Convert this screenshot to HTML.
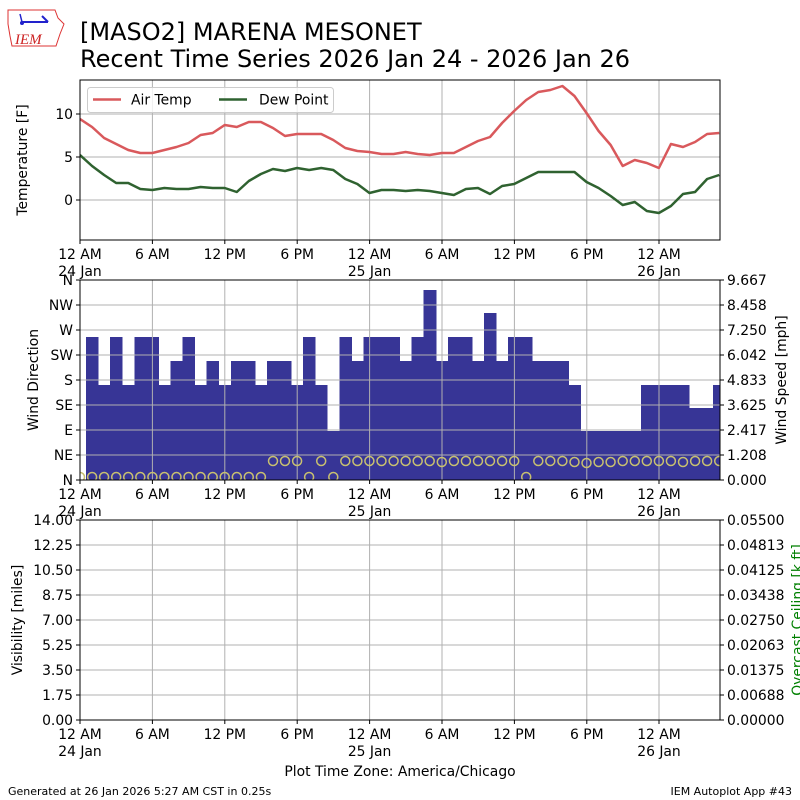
<!DOCTYPE html>
<html><head><meta charset="utf-8"><style>
html,body{margin:0;padding:0;background:#fff}
svg{display:block}
text{font-family:"DejaVu Sans","Liberation Sans",sans-serif;fill:#000}
</style></head><body>
<svg width="800" height="800" viewBox="0 0 800 800" xmlns="http://www.w3.org/2000/svg">
<defs>
<clipPath id="c1"><rect x="80" y="80" width="640" height="160"/></clipPath>
<clipPath id="c2"><rect x="80" y="280" width="640" height="200"/></clipPath>
</defs>
<g>
<path d="M8 10 L55 10 L58 18 L64 24 L60 34 L56 46 L12 46 L10 36 L8 24 Z" fill="#fff" stroke="#d33" stroke-width="1"/>
<text x="15" y="44" font-size="15" font-style="italic" style="font-family:'Liberation Serif',serif;fill:#c22">IEM</text>
<line x1="22" y1="22" x2="48" y2="22" stroke="#22c" stroke-width="2"/>
<line x1="20" y1="14" x2="22" y2="22" stroke="#22c" stroke-width="1.5"/>
<line x1="42" y1="16" x2="48" y2="22" stroke="#22c" stroke-width="2"/>
<circle cx="22" cy="23" r="2" fill="#22c"/>
</g>
<text x="80" y="40" font-size="24">[MASO2] MARENA MESONET</text>
<text x="80" y="67" font-size="24">Recent Time Series 2026 Jan 24 - 2026 Jan 26</text>

<g stroke="#b0b0b0" stroke-width="1">
<line x1="80" y1="114" x2="720" y2="114"/><line x1="80" y1="157" x2="720" y2="157"/><line x1="80" y1="200" x2="720" y2="200"/>
<line x1="152.4" y1="80" x2="152.4" y2="240"/><line x1="224.8" y1="80" x2="224.8" y2="240"/><line x1="297.2" y1="80" x2="297.2" y2="240"/><line x1="369.6" y1="80" x2="369.6" y2="240"/><line x1="442" y1="80" x2="442" y2="240"/><line x1="514.4" y1="80" x2="514.4" y2="240"/><line x1="586.8" y1="80" x2="586.8" y2="240"/><line x1="659" y1="80" x2="659" y2="240"/>
</g>
<g clip-path="url(#c1)">
<polyline transform="translate(80,0) scale(12.06,1)" fill="none" stroke="#d9595c" stroke-width="2.5" vector-effect="non-scaling-stroke" stroke-linejoin="round" points="0,119 1,127 2,138 3,144 4,150 5,153 6,153 7,150 8,147 9,143 10,135 11,133 12,125 13,127 14,122 15,122 16,128 17,136 18,134 19,134 20,134 21,140 22,148 23,151 24,152 25,154 26,154 27,152 28,154 29,155 30,153 31,153 32,147 33,141 34,137 35,123 36,111 37,100 38,92 39,90 40,86 41,96 42,113 43,131 44,145 45,166 46,160 47,163 48,168 49,144 50,147 51,142 52,134 53,133"/>
<polyline transform="translate(80,0) scale(12.06,1)" fill="none" stroke="#2f6230" stroke-width="2.5" vector-effect="non-scaling-stroke" stroke-linejoin="round" points="0,155 1,166 2,175 3,183 4,183 5,189 6,190 7,188 8,189 9,189 10,187 11,188 12,188 13,192 14,181 15,174 16,169 17,171 18,168 19,170 20,168 21,170 22,179 23,184 24,193 25,190 26,190 27,191 28,190 29,191 30,193 31,195 32,189 33,188 34,194 35,186 36,184 37,178 38,172 39,172 40,172 41,172 42,182 43,188 44,196 45,205 46,202 47,211 48,213 49,206 50,194 51,192 52,179 53,175"/>
</g>
<rect x="87.5" y="87.5" width="246" height="25" rx="3" fill="#fff" fill-opacity="0.8" stroke="#ccc"/>
<line x1="93" y1="99.5" x2="121" y2="99.5" stroke="#d9595c" stroke-width="2.5"/>
<text x="131" y="104.5" font-size="13.9">Air Temp</text>
<line x1="219" y1="99.5" x2="247" y2="99.5" stroke="#2f6230" stroke-width="2.5"/>
<text x="259" y="104.5" font-size="13.9">Dew Point</text>
<rect x="80" y="80" width="640" height="160" fill="none" stroke="#000" stroke-width="1"/>
<g stroke="#000"><line x1="76" y1="114" x2="80" y2="114"/><line x1="76" y1="157" x2="80" y2="157"/><line x1="76" y1="200" x2="80" y2="200"/></g>
<g font-size="13.9" text-anchor="end"><text x="73" y="119">10</text><text x="73" y="162">5</text><text x="73" y="205">0</text></g>
<text transform="translate(27,160) rotate(-90)" font-size="13.9" text-anchor="middle">Temperature [F]</text>
<g font-size="13.9" text-anchor="middle" stroke="none">
<text x="80" y="259">12 AM</text><text x="80" y="276">24 Jan</text>
<text x="152.4" y="259">6 AM</text><text x="224.8" y="259">12 PM</text><text x="297.2" y="259">6 PM</text>
<text x="369.6" y="259">12 AM</text><text x="369.6" y="276">25 Jan</text>
<text x="442" y="259">6 AM</text><text x="514.4" y="259">12 PM</text><text x="586.8" y="259">6 PM</text>
<text x="659" y="259">12 AM</text><text x="659" y="276">26 Jan</text>
</g>
<g stroke="#000"><line x1="80" y1="240" x2="80" y2="244"/><line x1="152.4" y1="240" x2="152.4" y2="244"/><line x1="224.8" y1="240" x2="224.8" y2="244"/><line x1="297.2" y1="240" x2="297.2" y2="244"/><line x1="369.6" y1="240" x2="369.6" y2="244"/><line x1="442" y1="240" x2="442" y2="244"/><line x1="514.4" y1="240" x2="514.4" y2="244"/><line x1="586.8" y1="240" x2="586.8" y2="244"/><line x1="659" y1="240" x2="659" y2="244"/></g>

<g clip-path="url(#c2)">
<g transform="translate(80,0) scale(12.06,1)" fill="#373596" shape-rendering="crispEdges">
<rect x="0.5" y="337" width="1.04" height="143"/><rect x="1.5" y="385" width="1.04" height="95"/><rect x="2.5" y="337" width="1.04" height="143"/><rect x="3.5" y="385" width="1.04" height="95"/><rect x="4.5" y="337" width="1.04" height="143"/><rect x="5.5" y="337" width="1.04" height="143"/><rect x="6.5" y="385" width="1.04" height="95"/><rect x="7.5" y="361" width="1.04" height="119"/><rect x="8.5" y="337" width="1.04" height="143"/><rect x="9.5" y="385" width="1.04" height="95"/><rect x="10.5" y="361" width="1.04" height="119"/><rect x="11.5" y="385" width="1.04" height="95"/><rect x="12.5" y="361" width="1.04" height="119"/><rect x="13.5" y="361" width="1.04" height="119"/><rect x="14.5" y="385" width="1.04" height="95"/><rect x="15.5" y="361" width="1.04" height="119"/><rect x="16.5" y="361" width="1.04" height="119"/><rect x="17.5" y="385" width="1.04" height="95"/><rect x="18.5" y="337" width="1.04" height="143"/><rect x="19.5" y="385" width="1.04" height="95"/><rect x="20.5" y="431" width="1.04" height="49"/><rect x="21.5" y="337" width="1.04" height="143"/><rect x="22.5" y="361" width="1.04" height="119"/><rect x="23.5" y="337" width="1.04" height="143"/><rect x="24.5" y="337" width="1.04" height="143"/><rect x="25.5" y="337" width="1.04" height="143"/><rect x="26.5" y="361" width="1.04" height="119"/><rect x="27.5" y="337" width="1.04" height="143"/><rect x="28.5" y="290" width="1.04" height="190"/><rect x="29.5" y="361" width="1.04" height="119"/><rect x="30.5" y="337" width="1.04" height="143"/><rect x="31.5" y="337" width="1.04" height="143"/><rect x="32.5" y="361" width="1.04" height="119"/><rect x="33.5" y="313" width="1.04" height="167"/><rect x="34.5" y="361" width="1.04" height="119"/><rect x="35.5" y="337" width="1.04" height="143"/><rect x="36.5" y="337" width="1.04" height="143"/><rect x="37.5" y="361" width="1.04" height="119"/><rect x="38.5" y="361" width="1.04" height="119"/><rect x="39.5" y="361" width="1.04" height="119"/><rect x="40.5" y="385" width="1.04" height="95"/><rect x="41.5" y="431" width="1.04" height="49"/><rect x="42.5" y="431" width="1.04" height="49"/><rect x="43.5" y="431" width="1.04" height="49"/><rect x="44.5" y="431" width="1.04" height="49"/><rect x="45.5" y="431" width="1.04" height="49"/><rect x="46.5" y="385" width="1.04" height="95"/><rect x="47.5" y="385" width="1.04" height="95"/><rect x="48.5" y="385" width="1.04" height="95"/><rect x="49.5" y="385" width="1.04" height="95"/><rect x="50.5" y="408" width="1.04" height="72"/><rect x="51.5" y="408" width="1.04" height="72"/><rect x="52.5" y="385" width="1.04" height="95"/><rect x="53.5" y="431" width="1.04" height="49"/>
</g>
<g stroke="#b0b0b0" stroke-width="1">
<line x1="80" y1="305" x2="720" y2="305"/><line x1="80" y1="330" x2="720" y2="330"/><line x1="80" y1="355" x2="720" y2="355"/><line x1="80" y1="380" x2="720" y2="380"/><line x1="80" y1="405" x2="720" y2="405"/><line x1="80" y1="430" x2="720" y2="430"/><line x1="80" y1="455" x2="720" y2="455"/>
<line x1="152.4" y1="280" x2="152.4" y2="480"/><line x1="224.8" y1="280" x2="224.8" y2="480"/><line x1="297.2" y1="280" x2="297.2" y2="480"/><line x1="369.6" y1="280" x2="369.6" y2="480"/><line x1="442" y1="280" x2="442" y2="480"/><line x1="514.4" y1="280" x2="514.4" y2="480"/><line x1="586.8" y1="280" x2="586.8" y2="480"/><line x1="659" y1="280" x2="659" y2="480"/>
</g>
<g fill="none" stroke="#c8c070" stroke-width="1.5">
<circle cx="80" cy="477" r="4.5"/><circle cx="92.1" cy="477" r="4.5"/><circle cx="104.1" cy="477" r="4.5"/><circle cx="116.2" cy="477" r="4.5"/><circle cx="128.2" cy="477" r="4.5"/><circle cx="140.3" cy="477" r="4.5"/><circle cx="152.4" cy="477" r="4.5"/><circle cx="164.4" cy="477" r="4.5"/><circle cx="176.5" cy="477" r="4.5"/><circle cx="188.5" cy="477" r="4.5"/><circle cx="200.6" cy="477" r="4.5"/><circle cx="212.7" cy="477" r="4.5"/><circle cx="224.7" cy="477" r="4.5"/><circle cx="236.8" cy="477" r="4.5"/><circle cx="248.8" cy="477" r="4.5"/><circle cx="260.9" cy="477" r="4.5"/>
<circle cx="273" cy="461" r="4.5"/><circle cx="285" cy="461" r="4.5"/><circle cx="297.1" cy="461" r="4.5"/><circle cx="309.1" cy="477" r="4.5"/><circle cx="321.2" cy="461" r="4.5"/><circle cx="333.3" cy="477" r="4.5"/><circle cx="345.3" cy="461" r="4.5"/><circle cx="357.4" cy="461" r="4.5"/><circle cx="369.4" cy="461" r="4.5"/><circle cx="381.5" cy="461" r="4.5"/><circle cx="393.6" cy="461" r="4.5"/><circle cx="405.6" cy="461" r="4.5"/><circle cx="417.7" cy="461" r="4.5"/><circle cx="429.7" cy="461" r="4.5"/><circle cx="441.8" cy="462" r="4.5"/><circle cx="453.9" cy="461" r="4.5"/><circle cx="465.9" cy="461" r="4.5"/><circle cx="478" cy="461" r="4.5"/><circle cx="490" cy="461" r="4.5"/><circle cx="502.1" cy="461" r="4.5"/><circle cx="514.2" cy="461" r="4.5"/><circle cx="526.2" cy="477" r="4.5"/><circle cx="538.3" cy="461" r="4.5"/><circle cx="550.3" cy="461" r="4.5"/><circle cx="562.4" cy="461" r="4.5"/><circle cx="574.5" cy="462" r="4.5"/><circle cx="586.5" cy="463" r="4.5"/><circle cx="598.6" cy="462" r="4.5"/><circle cx="610.6" cy="462" r="4.5"/><circle cx="622.7" cy="461" r="4.5"/><circle cx="634.8" cy="461" r="4.5"/><circle cx="646.8" cy="461" r="4.5"/><circle cx="658.9" cy="461" r="4.5"/><circle cx="670.9" cy="461" r="4.5"/><circle cx="683" cy="462" r="4.5"/><circle cx="695.1" cy="461" r="4.5"/><circle cx="707.1" cy="461" r="4.5"/><circle cx="719.2" cy="461" r="4.5"/>
</g>
</g>
<rect x="80" y="280" width="640" height="200" fill="none" stroke="#000" stroke-width="1"/>
<g stroke="#000"><line x1="76" y1="280" x2="80" y2="280"/><line x1="76" y1="305" x2="80" y2="305"/><line x1="76" y1="330" x2="80" y2="330"/><line x1="76" y1="355" x2="80" y2="355"/><line x1="76" y1="380" x2="80" y2="380"/><line x1="76" y1="405" x2="80" y2="405"/><line x1="76" y1="430" x2="80" y2="430"/><line x1="76" y1="455" x2="80" y2="455"/><line x1="76" y1="480" x2="80" y2="480"/>
<line x1="720" y1="280" x2="724" y2="280"/><line x1="720" y1="305" x2="724" y2="305"/><line x1="720" y1="330" x2="724" y2="330"/><line x1="720" y1="355" x2="724" y2="355"/><line x1="720" y1="380" x2="724" y2="380"/><line x1="720" y1="405" x2="724" y2="405"/><line x1="720" y1="430" x2="724" y2="430"/><line x1="720" y1="455" x2="724" y2="455"/><line x1="720" y1="480" x2="724" y2="480"/></g>
<g font-size="13.9" text-anchor="end"><text x="73" y="285">N</text><text x="73" y="310">NW</text><text x="73" y="335">W</text><text x="73" y="360">SW</text><text x="73" y="385">S</text><text x="73" y="410">SE</text><text x="73" y="435">E</text><text x="73" y="460">NE</text><text x="73" y="485">N</text></g>
<g font-size="13.9"><text x="727" y="285">9.667</text><text x="727" y="310">8.458</text><text x="727" y="335">7.250</text><text x="727" y="360">6.042</text><text x="727" y="385">4.833</text><text x="727" y="410">3.625</text><text x="727" y="435">2.417</text><text x="727" y="460">1.208</text><text x="727" y="485">0.000</text></g>
<text transform="translate(38,380) rotate(-90)" font-size="13.9" text-anchor="middle">Wind Direction</text>
<text transform="translate(786,380) rotate(-90)" font-size="13.9" text-anchor="middle">Wind Speed [mph]</text>
<g font-size="13.9" text-anchor="middle">
<text x="80" y="499">12 AM</text><text x="80" y="516">24 Jan</text>
<text x="152.4" y="499">6 AM</text><text x="224.8" y="499">12 PM</text><text x="297.2" y="499">6 PM</text>
<text x="369.6" y="499">12 AM</text><text x="369.6" y="516">25 Jan</text>
<text x="442" y="499">6 AM</text><text x="514.4" y="499">12 PM</text><text x="586.8" y="499">6 PM</text>
<text x="659" y="499">12 AM</text><text x="659" y="516">26 Jan</text>
</g>
<g stroke="#000"><line x1="80" y1="480" x2="80" y2="484"/><line x1="152.4" y1="480" x2="152.4" y2="484"/><line x1="224.8" y1="480" x2="224.8" y2="484"/><line x1="297.2" y1="480" x2="297.2" y2="484"/><line x1="369.6" y1="480" x2="369.6" y2="484"/><line x1="442" y1="480" x2="442" y2="484"/><line x1="514.4" y1="480" x2="514.4" y2="484"/><line x1="586.8" y1="480" x2="586.8" y2="484"/><line x1="659" y1="480" x2="659" y2="484"/></g>

<g stroke="#b0b0b0" stroke-width="1">
<line x1="80" y1="545" x2="720" y2="545"/><line x1="80" y1="570" x2="720" y2="570"/><line x1="80" y1="595" x2="720" y2="595"/><line x1="80" y1="620" x2="720" y2="620"/><line x1="80" y1="645" x2="720" y2="645"/><line x1="80" y1="670" x2="720" y2="670"/><line x1="80" y1="695" x2="720" y2="695"/>
<line x1="152.4" y1="520" x2="152.4" y2="720"/><line x1="224.8" y1="520" x2="224.8" y2="720"/><line x1="297.2" y1="520" x2="297.2" y2="720"/><line x1="369.6" y1="520" x2="369.6" y2="720"/><line x1="442" y1="520" x2="442" y2="720"/><line x1="514.4" y1="520" x2="514.4" y2="720"/><line x1="586.8" y1="520" x2="586.8" y2="720"/><line x1="659" y1="520" x2="659" y2="720"/>
</g>
<rect x="80" y="520" width="640" height="200" fill="none" stroke="#000" stroke-width="1"/>
<g stroke="#000"><line x1="76" y1="520" x2="80" y2="520"/><line x1="76" y1="545" x2="80" y2="545"/><line x1="76" y1="570" x2="80" y2="570"/><line x1="76" y1="595" x2="80" y2="595"/><line x1="76" y1="620" x2="80" y2="620"/><line x1="76" y1="645" x2="80" y2="645"/><line x1="76" y1="670" x2="80" y2="670"/><line x1="76" y1="695" x2="80" y2="695"/><line x1="76" y1="720" x2="80" y2="720"/>
<line x1="720" y1="520" x2="724" y2="520"/><line x1="720" y1="545" x2="724" y2="545"/><line x1="720" y1="570" x2="724" y2="570"/><line x1="720" y1="595" x2="724" y2="595"/><line x1="720" y1="620" x2="724" y2="620"/><line x1="720" y1="645" x2="724" y2="645"/><line x1="720" y1="670" x2="724" y2="670"/><line x1="720" y1="695" x2="724" y2="695"/><line x1="720" y1="720" x2="724" y2="720"/>
<line x1="80" y1="720" x2="80" y2="724"/><line x1="152.4" y1="720" x2="152.4" y2="724"/><line x1="224.8" y1="720" x2="224.8" y2="724"/><line x1="297.2" y1="720" x2="297.2" y2="724"/><line x1="369.6" y1="720" x2="369.6" y2="724"/><line x1="442" y1="720" x2="442" y2="724"/><line x1="514.4" y1="720" x2="514.4" y2="724"/><line x1="586.8" y1="720" x2="586.8" y2="724"/><line x1="659" y1="720" x2="659" y2="724"/></g>
<g font-size="13.9" text-anchor="end"><text x="73" y="525">14.00</text><text x="73" y="550">12.25</text><text x="73" y="575">10.50</text><text x="73" y="600">8.75</text><text x="73" y="625">7.00</text><text x="73" y="650">5.25</text><text x="73" y="675">3.50</text><text x="73" y="700">1.75</text><text x="73" y="725">0.00</text></g>
<g font-size="13.9"><text x="727" y="525">0.05500</text><text x="727" y="550">0.04813</text><text x="727" y="575">0.04125</text><text x="727" y="600">0.03438</text><text x="727" y="625">0.02750</text><text x="727" y="650">0.02063</text><text x="727" y="675">0.01375</text><text x="727" y="700">0.00688</text><text x="727" y="725">0.00000</text></g>
<text transform="translate(22,620) rotate(-90)" font-size="13.9" text-anchor="middle">Visibility [miles]</text>
<text transform="translate(802,620) rotate(-90)" font-size="13.9" text-anchor="middle" style="fill:#008000">Overcast Ceiling [k ft]</text>
<g font-size="13.9" text-anchor="middle">
<text x="80" y="739">12 AM</text><text x="80" y="756">24 Jan</text>
<text x="152.4" y="739">6 AM</text><text x="224.8" y="739">12 PM</text><text x="297.2" y="739">6 PM</text>
<text x="369.6" y="739">12 AM</text><text x="369.6" y="756">25 Jan</text>
<text x="442" y="739">6 AM</text><text x="514.4" y="739">12 PM</text><text x="586.8" y="739">6 PM</text>
<text x="659" y="739">12 AM</text><text x="659" y="756">26 Jan</text>
<text x="400" y="776">Plot Time Zone: America/Chicago</text>
</g>
<text x="8" y="795" font-size="11">Generated at 26 Jan 2026 5:27 AM CST in 0.25s</text>
<text x="792" y="795" font-size="11" text-anchor="end">IEM Autoplot App #43</text>
</svg>
</body></html>
